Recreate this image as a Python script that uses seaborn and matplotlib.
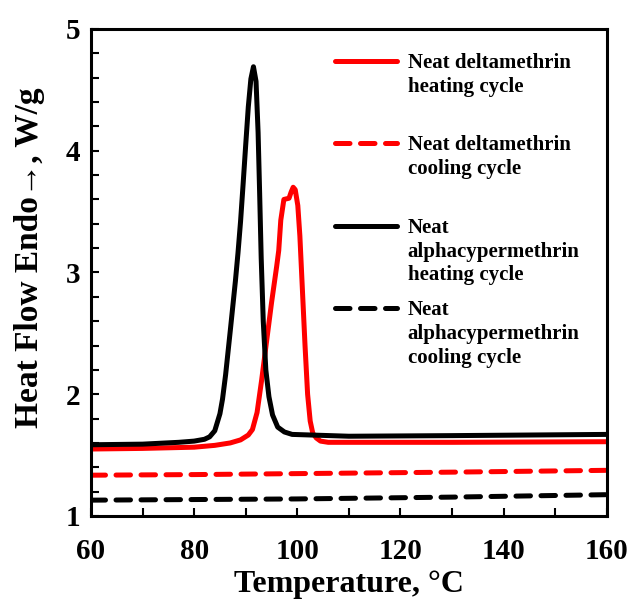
import numpy as np
import pandas as pd
import matplotlib
matplotlib.use("Agg")
import matplotlib.pyplot as plt
from matplotlib.legend_handler import HandlerLine2D
from matplotlib.ticker import MultipleLocator
import seaborn as sns

# Neat deltamethrin, heating cycle
delta_heat_T = [60, 70, 80, 84, 87, 89, 90.5, 91.3, 92.2, 93.1, 94, 95, 96, 96.4, 96.8,
                97.4, 98.4, 98.8, 99.2, 99.6, 100.1, 100.5, 101.0, 101.5, 102.0, 102.5,
                103, 103.7, 104.5, 106, 130, 160]
delta_heat_Q = [1.55, 1.555, 1.565, 1.58, 1.60, 1.625, 1.665, 1.71, 1.85, 2.12, 2.42, 2.75,
                3.05, 3.18, 3.43, 3.60, 3.61, 3.66, 3.70, 3.68, 3.55, 3.30, 2.85, 2.40, 2.00,
                1.78, 1.68, 1.64, 1.615, 1.605, 1.605, 1.61]

# Neat deltamethrin, cooling cycle
delta_cool_T = [60, 80, 100, 130, 160]
delta_cool_Q = [1.335, 1.34, 1.348, 1.36, 1.375]

# Neat alphacypermethrin, heating cycle
alpha_heat_T = [60, 70, 77, 80, 82, 83, 84, 85, 85.5, 86.1, 87, 88, 88.5, 89, 89.5, 90,
                90.5, 91.0, 91.5, 92.0, 92.4, 92.7, 93.0, 93.4, 93.9, 94.5, 95.2, 96.2,
                97.5, 99, 110, 130, 160]
alpha_heat_Q = [1.585, 1.59, 1.605, 1.615, 1.63, 1.65, 1.70, 1.84, 1.96, 2.16, 2.52, 2.93,
                3.16, 3.42, 3.73, 4.05, 4.36, 4.59, 4.69, 4.57, 4.15, 3.65, 3.12, 2.60, 2.20,
                1.98, 1.83, 1.73, 1.69, 1.67, 1.655, 1.66, 1.67]

# Neat alphacypermethrin, cooling cycle
alpha_cool_T = [60, 80, 100, 130, 160]
alpha_cool_Q = [1.13, 1.135, 1.14, 1.155, 1.175]

labels = ["Neat deltamethrin\nheating cycle\n",
          "Neat deltamethrin\ncooling cycle\n",
          "Neat\nalphacypermethrin\nheating cycle",
          "Neat\nalphacypermethrin\ncooling cycle"]

sns.set_theme(style="white")
plt.rcParams['font.family'] = ['Liberation Serif', 'DejaVu Serif']
plt.rcParams['font.weight'] = 'bold'
plt.rcParams['axes.labelweight'] = 'bold'
for k in ['text.color', 'axes.labelcolor', 'xtick.color', 'ytick.color']:
    plt.rcParams[k] = 'black'


class FirstLineHandler(HandlerLine2D):
    # put the legend line next to the first line of a 3-line label
    def __init__(self, shift, **kw):
        super().__init__(**kw)
        self.shift = shift

    def create_artists(self, legend, orig_handle, xdescent, ydescent, width, height,
                       fontsize, trans):
        arts = super().create_artists(legend, orig_handle, xdescent, ydescent, width,
                                      height, fontsize, trans)
        for a in arts:
            a.set_ydata(np.asarray(a.get_ydata()) + self.shift)
        return arts


fig = plt.figure(figsize=(6.32, 5.99), dpi=100)
ax = fig.add_axes([0.144, 0.1386, 0.816, 0.813])

lw = 3.6
dash = (0, (2.9, 2.1))
sns.lineplot(x=delta_heat_T, y=delta_heat_Q, ax=ax, color="#ff0000", lw=lw,
             label=labels[0], estimator=None)
sns.lineplot(x=delta_cool_T, y=delta_cool_Q, ax=ax, color="#ff0000", lw=lw,
             linestyle=dash, dash_capstyle="round", label=labels[1], estimator=None)
sns.lineplot(x=alpha_heat_T, y=alpha_heat_Q, ax=ax, color="black", lw=lw,
             label=labels[2], estimator=None)
sns.lineplot(x=alpha_cool_T, y=alpha_cool_Q, ax=ax, color="black", lw=lw,
             linestyle=dash, dash_capstyle="round", label=labels[3], estimator=None)

ax.set_xlim(60, 160)
ax.set_ylim(1, 5)
ax.xaxis.set_major_locator(MultipleLocator(20))
ax.xaxis.set_minor_locator(MultipleLocator(10))
ax.yaxis.set_major_locator(MultipleLocator(1))
ax.yaxis.set_minor_locator(MultipleLocator(0.2))
ax.tick_params(which="both", direction="in", length=6, width=1.5, color="black",
               left=True, bottom=True, top=False, right=False)
ax.tick_params(axis="x", which="major", labelsize=21, pad=16)
ax.tick_params(axis="y", which="major", labelsize=21, pad=8)
for s in ax.spines.values():
    s.set_linewidth(2.2)
    s.set_color("black")

ax.set_xlabel("Temperature, °C", fontsize=23, fontweight="bold", labelpad=3.5)
ax.set_ylabel("Heat Flow Endo→, W/g", fontsize=24, fontweight="bold")
ax.yaxis.set_label_coords(-0.09, 0.53)

h, l = ax.get_legend_handles_labels()
leg = ax.legend(h, l, loc="upper left", bbox_to_anchor=(0.473, 0.951), frameon=False,
                fontsize=15, handlelength=3.0, handletextpad=0.5, labelspacing=0.72,
                borderpad=0, borderaxespad=0,
                handler_map={hh: FirstLineHandler(shift=18.7) for hh in h})
for t in leg.get_texts():
    t.set_linespacing(1.25)
    t.set_fontweight("bold")

fig.savefig("out.png", dpi=100)
